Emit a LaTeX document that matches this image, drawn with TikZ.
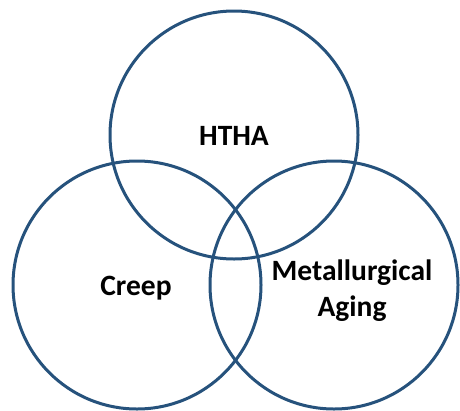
\documentclass[tikz,border=0pt]{standalone}
\usepackage{fontspec}
\setmainfont{Carlito}
\definecolor{ringblue}{RGB}{38,82,124}
\begin{document}
\begin{tikzpicture}[x=1pt,y=-1pt,
  ring/.style={draw=ringblue,line width=3pt,circle,minimum size=248pt,inner sep=0pt},
  lbl/.style={font=\fontsize{29.5}{36}\selectfont\bfseries,align=center,text=black}]
\useasboundingbox (0,0) rectangle (460,410);
\node[ring] (top) at (234,135) {};
\node[ring] (left) at (137,285) {};
\node[ring] (right) at (334,285) {};
\node[lbl] (htha) at (234,136) {HTHA};
\node[lbl] (creep) at (136,288) {Creep};
\node[lbl] (metal) at (352,291) {Metallurgical\\Aging};
\end{tikzpicture}
\end{document}
